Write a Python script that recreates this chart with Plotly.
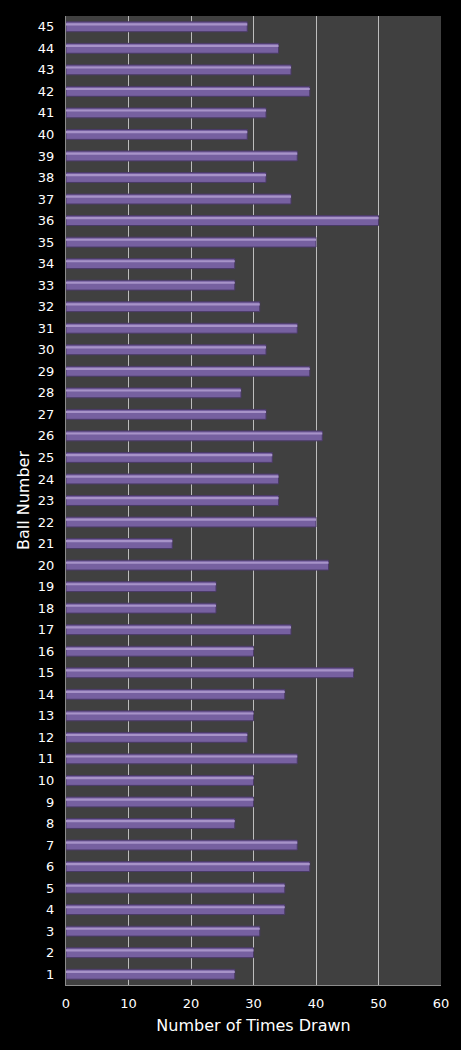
import plotly.graph_objects as go

ball_numbers = list(range(1, 46))
times_drawn = [27, 30, 31, 35, 35, 39, 37, 27, 30, 30,
               37, 29, 30, 35, 46, 30, 36, 24, 24, 42,
               17, 40, 34, 34, 33, 41, 32, 28, 39, 32,
               37, 31, 27, 27, 40, 50, 36, 32, 37, 29,
               32, 39, 36, 34, 29]
x_ticks = [0, 10, 20, 30, 40, 50, 60]

labels = [str(b) for b in ball_numbers]

fig = go.Figure()

# main bar body
fig.add_trace(go.Bar(
    x=times_drawn, y=labels, orientation="h",
    width=0.46, offset=-0.23,
    marker=dict(color="#7660a0", line=dict(color="#4a3a66", width=1)),
    hoverinfo="x+y",
))
# light top strip to give the bevelled look
fig.add_trace(go.Bar(
    x=times_drawn, y=labels, orientation="h",
    width=0.1, offset=0.06,
    marker=dict(color="#a793c8", line=dict(width=0)),
    hoverinfo="skip",
))

fig.update_layout(
    width=461, height=1050,
    margin=dict(l=66, r=20, t=16, b=65),
    paper_bgcolor="black",
    plot_bgcolor="#404040",
    font=dict(family="DejaVu Sans", color="white", size=13),
    showlegend=False,
    barmode="overlay",
)
fig.update_xaxes(
    range=[0, 60], tickvals=x_ticks, ticks="",
    showgrid=True, gridcolor="#bdbdbd", gridwidth=1,
    showline=True, linecolor="#8c8c8c", linewidth=1,
    zeroline=False, tickfont=dict(size=13), ticklabelstandoff=6,
    title=dict(text="Number of Times Drawn", font=dict(size=16), standoff=10),
)
fig.update_yaxes(
    type="category", ticks="", showgrid=False,
    showline=True, linecolor="#8c8c8c", linewidth=1,
    tickfont=dict(size=13), ticklabelstandoff=8,
    title=dict(text="Ball Number", font=dict(size=16), standoff=4),
)

fig.write_html("out.html", config={"displayModeBar": False},
               post_script="document.body.style.margin='0';")
